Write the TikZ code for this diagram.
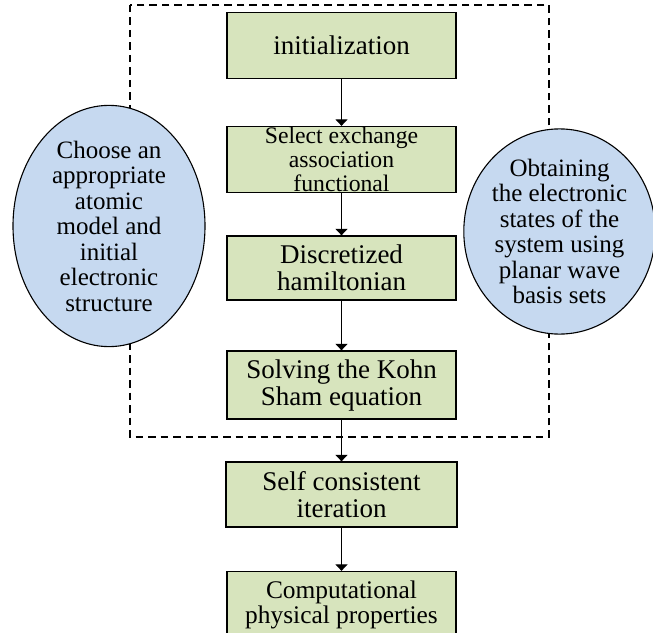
\documentclass[tikz,border=0pt]{standalone}
\usepackage{fontspec}
\setmainfont{Liberation Serif}
\usetikzlibrary{arrows.meta}
\usetikzlibrary{shapes.geometric,positioning}
\definecolor{boxgreen}{HTML}{D7E4BD}
\definecolor{bubbleblue}{HTML}{C6D9F0}
\tikzset{
	x=1bp, y=1bp,
	node distance=110bp,
	every path/.style = {line width=1.1bp},
	flow/.style = {-{Triangle[width=12bp,length=6.5bp]}}
}

\begin{document}
\begin{tikzpicture}[box/.style={draw, fill=boxgreen, line width=1.3bp, rectangle, align=center,
		minimum width=229bp, minimum height=66bp, inner sep=0pt,
		font=\fontsize{27bp}{27bp}\selectfont},
	bubble/.style={draw, fill=bubbleblue, ellipse, align=center, inner sep=0pt,
		minimum width=192bp, minimum height=192bp,
		font=\fontsize{25bp}{25.5bp}\selectfont},
	frame/.style={dashed, dash pattern=on 7.5bp off 5bp}]
	\useasboundingbox (0,0) rectangle (653,-633);
	\draw [frame] (130,-5) rectangle (549,-437);
	\node (init) [box] at (341.5,-45.5) {initialization};
	\node (select) [box, node distance=114bp, below of=init, font=\fontsize{23.7bp}{24bp}\selectfont] {Select exchange\\association\\functional};
	\node (disc) [box, node distance=108.5bp, below of=select, minimum height=64bp] {Discretized\\hamiltonian};
	\node (solve) [box, node distance=117bp, below of=disc, minimum height=68bp] {Solving the Kohn\\Sham equation};
	\node (iter) [box, node distance=109.5bp, below of=solve, minimum width=231bp, minimum height=65bp] {Self consistent\\iteration};
	\node (props) [box, node distance=110bp, below of=iter, font=\fontsize{25.4bp}{25bp}\selectfont] {Computational\\physical properties};
	\node (model) [bubble] at (109,-226) {Choose an\\appropriate\\atomic\\model and\\initial\\electronic\\structure};
	\node (states) [bubble, minimum width=185bp, minimum height=193bp] at (559.5,-231.5) {Obtaining\\the electronic\\states of the\\system using\\planar wave\\basis sets};
	\draw [flow] (init) -- (select);
	\draw [flow] (select) -- (disc);
	\draw [flow] (disc) -- (solve);
	\draw [flow] (solve) -- (iter);
	\draw [flow] (iter) -- (props);
\end{tikzpicture}
\end{document}
